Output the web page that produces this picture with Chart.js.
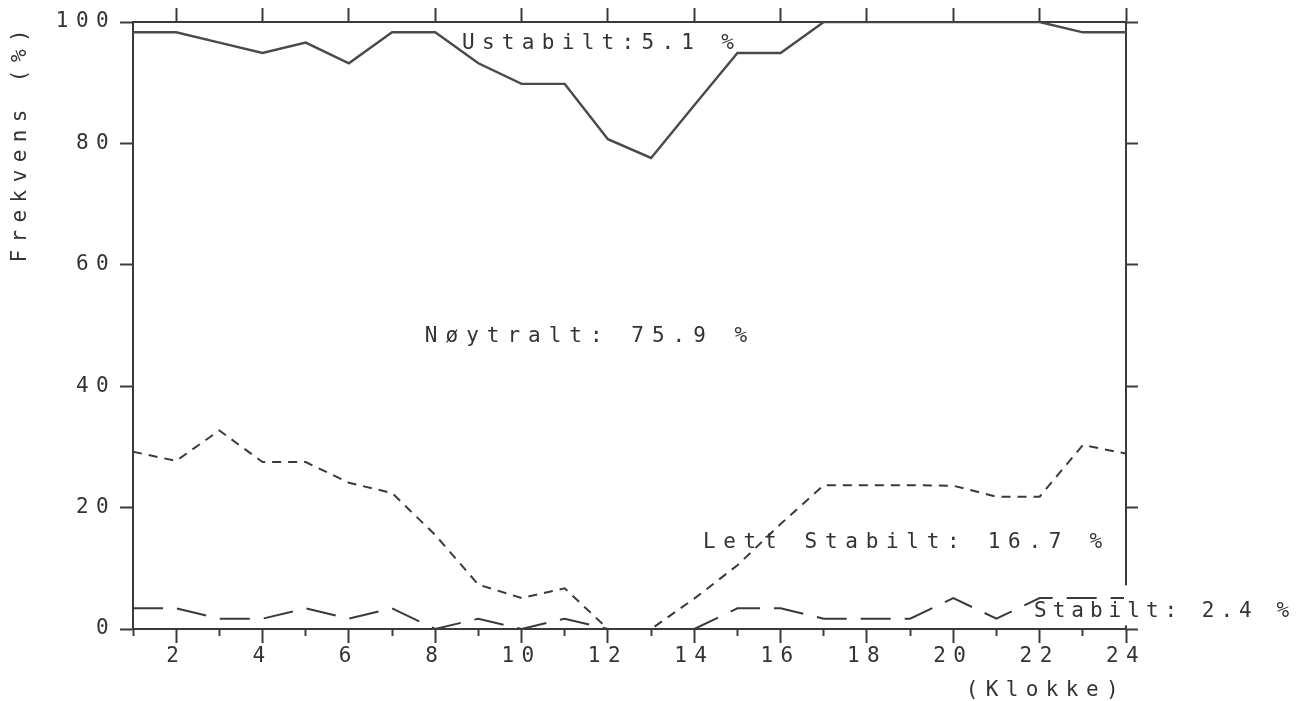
<!DOCTYPE html>
<html>
<head>
<meta charset="utf-8">
<script src="https://cdn.jsdelivr.net/npm/chart.js@4.4.1/dist/chart.umd.min.js"></script>
<style>
html,body{margin:0;padding:0;background:#fff;}
#wrap{width:1307px;height:701px;position:relative;}
</style>
</head>
<body>
<div id="wrap"><canvas id="c"></canvas></div>
<script>
// ---- data ----
const hours = [1,2,3,4,5,6,7,8,9,10,11,12,13,14,15,16,17,18,19,20,21,22,23,24];
const evenHourTicks = [2,4,6,8,10,12,14,16,18,20,22,24];
const yTickValues = [0,20,40,60,80,100];
// upper solid curve: 100 - Ustabilt
const topBoundary = [98.3,98.3,96.6,94.9,96.6,93.2,98.3,98.3,93.2,89.8,89.8,80.7,77.6,86.3,94.9,94.9,100,100,100,100,100,100,98.3,98.3];
// short-dashed curve: Lett stabilt + Stabilt
const lettStabiltBoundary = [29.2,27.7,32.7,27.5,27.5,24.1,22.4,15.5,7.3,5.1,6.7,0,0,5.0,10.5,17.3,23.7,23.7,23.7,23.6,21.8,21.8,30.3,28.9];
// long-dashed curve: Stabilt
const stabiltValues = [3.4,3.4,1.7,1.7,3.4,1.7,3.4,0,1.7,0,1.7,0,0,0,3.4,3.4,1.7,1.7,1.7,5.1,1.7,5.1,5.1,5.1];
const labelTexts = ['Ustabilt:5.1 %','Nøytralt: 75.9 %','Lett Stabilt: 16.7 %','Stabilt: 2.4 %'];
const yTitle = 'Frekvens (%)';
const xTitle = '(Klokke)';

// ---- styling / layout ----
const FONT = '"DejaVu Sans Mono", "Liberation Mono", monospace';
const FSIZE = 21;
const SPACING = '7.4px';
const INK = '#333';
const AXIS = '#3a3a3a';
const labelPlacement = [
  {x: 8.62, y: 96.4, spacing: 7.3},
  {x: 7.76, y: 48.1, spacing: 8.0},
  {x: 14.2, y: 14.2, spacing: 7.7},
  {x: 21.87, y: 2.8, spacing: 6.0}
];

const toPoints = arr => hours.map((h, i) => ({x: h, y: arr[i]}));

const spacingPlugin = {
  id: 'spacing',
  beforeLayout(chart){ chart.ctx.letterSpacing = SPACING; },
  beforeDraw(chart){ chart.ctx.letterSpacing = SPACING; }
};

const annotationPlugin = {
  id: 'annot',
  afterDraw(chart){
    const {ctx, scales: {x, y}, chartArea} = chart;
    ctx.save();
    // gap in the right frame line next to the "Stabilt" label
    ctx.fillStyle = '#fff';
    const top = y.getPixelForValue(7.2), bot = y.getPixelForValue(0.6);
    ctx.fillRect(chartArea.right - 2, top, 4, bot - top);
    ctx.fillStyle = INK;
    ctx.font = FSIZE + 'px ' + FONT;
    ctx.textAlign = 'left';
    ctx.textBaseline = 'middle';
    labelTexts.forEach((t, i) => {
      const p = labelPlacement[i];
      ctx.letterSpacing = p.spacing + 'px';
      ctx.fillText(t, x.getPixelForValue(p.x), y.getPixelForValue(p.y));
    });
    ctx.restore();
    ctx.letterSpacing = SPACING;
  }
};

const baseGrid = {drawOnChartArea: false, color: AXIS, tickColor: AXIS, tickWidth: 2};
const border = {display: true, color: AXIS, width: 2};

new Chart(document.getElementById('c'), {
  type: 'line',
  data: {
    datasets: [
      {label: 'Ustabilt', data: toPoints(topBoundary), borderColor: '#4a4a4a', borderWidth: 2.4, pointRadius: 0, tension: 0, fill: false},
      {label: 'Lett stabilt', data: toPoints(lettStabiltBoundary), borderColor: '#3a3a3a', borderWidth: 2, borderDash: [9, 7], pointRadius: 0, tension: 0, fill: false},
      {label: 'Stabilt', data: toPoints(stabiltValues), borderColor: '#3a3a3a', borderWidth: 2, borderDash: [30, 14], pointRadius: 0, tension: 0, fill: false}
    ]
  },
  options: {
    responsive: true,
    maintainAspectRatio: false,
    animation: false,
    layout: {padding: 0},
    plugins: {legend: {display: false}, tooltip: {enabled: false}},
    scales: {
      x: {
        type: 'linear', position: 'bottom', min: 1, max: 24,
        afterBuildTicks: s => { s.ticks = hours.map(v => ({value: v})); },
        afterFit: s => { s.height = 72; },
        grid: Object.assign({}, baseGrid, {
          tickLength: 14,
          tickBorderDash: ctx => (ctx.tick && ctx.tick.value % 2 === 1) ? [6, 100] : []
        }),
        border: border,
        ticks: {
          autoSkip: false, maxRotation: 0, minRotation: 0, padding: 1, color: INK,
          font: {family: FONT, size: FSIZE},
          callback: v => (evenHourTicks.includes(v) ? String(v) : '')
        },
        title: {display: true, text: xTitle, align: 'end', color: INK, font: {family: FONT, size: FSIZE, lineHeight: 1.0}, padding: {top: 0, bottom: 0}}
      },
      xTop: {
        type: 'linear', position: 'top', min: 1, max: 24,
        afterBuildTicks: s => { s.ticks = evenHourTicks.map(v => ({value: v})); },
        afterFit: s => { s.height = 22; },
        grid: Object.assign({}, baseGrid, {tickLength: 14}),
        border: border,
        ticks: {display: false}
      },
      y: {
        type: 'linear', position: 'left', min: 0, max: 100,
        afterBuildTicks: s => { s.ticks = yTickValues.map(v => ({value: v})); },
        afterFit: s => { s.width = 133; },
        grid: Object.assign({}, baseGrid, {tickLength: 13}),
        border: border,
        ticks: {padding: 4, color: INK, font: {family: FONT, size: FSIZE}},
        title: {display: true, text: yTitle, align: 'end', color: INK, font: {family: FONT, size: FSIZE, lineHeight: 1.2}, padding: {top: 8, bottom: 0}}
      },
      yRight: {
        type: 'linear', position: 'right', min: 0, max: 100,
        afterBuildTicks: s => { s.ticks = yTickValues.map(v => ({value: v})); },
        afterFit: s => { s.width = 181; },
        grid: Object.assign({}, baseGrid, {tickLength: 12}),
        border: border,
        ticks: {display: false}
      }
    }
  },
  plugins: [spacingPlugin, annotationPlugin]
});
</script>
</body>
</html>
